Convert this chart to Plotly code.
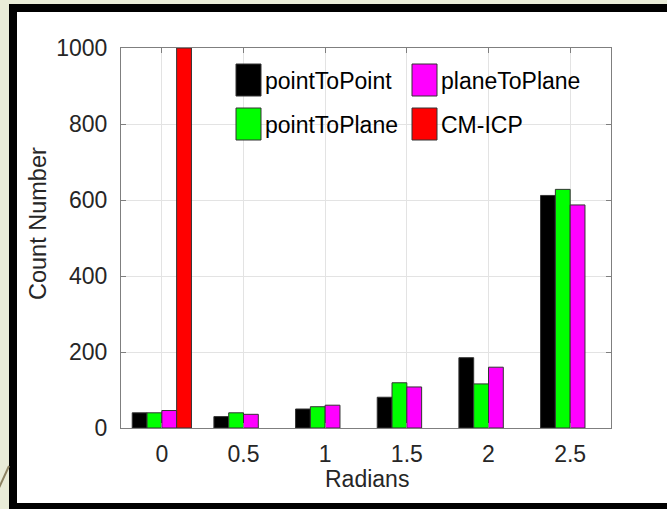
import plotly.graph_objects as go

# ---- data ----
radians = [0, 0.5, 1, 1.5, 2, 2.5]
tick_labels = ["0", "0.5", "1", "1.5", "2", "2.5"]
point_to_point = [40, 30, 50, 81, 185, 612]
point_to_plane = [40, 40, 56, 119, 116, 628]
plane_to_plane = [46, 36, 60, 108, 160, 587]
cm_icp = [1000, None, None, None, None, None]

series_names = ["pointToPoint", "pointToPlane", "planeToPlane", "CM-ICP"]
series_values = [point_to_point, point_to_plane, plane_to_plane, cm_icp]
series_colors = ["#000000", "#00ff00", "#ff00ff", "#ff0000"]

# ---- geometry helpers (pixel -> paper) ----
W, H = 667, 509
L, R, T, B = 121, 611, 48, 428


def px(x):
    return (x - L) / (R - L)


def py(y):
    return (B - y) / (B - T)


FONT = "Liberation Sans, Arial, Helvetica, sans-serif"
TXT = "#262626"
BG = "#e9ecd8"

fig = go.Figure()
for name, vals, col in zip(series_names, series_values, series_colors):
    fig.add_trace(go.Bar(
        x=radians, y=vals, name=name,
        marker=dict(color=col, line=dict(color="#333333", width=1)),
        showlegend=False,
    ))

shapes = [
    # white slide panel with black frame
    dict(type="rect", xref="paper", yref="paper", layer="below",
         x0=px(13), x1=px(680), y0=py(8), y1=py(507),
         fillcolor="white", line=dict(color="black", width=8)),
    # decorative diagonal line in background
    dict(type="line", xref="paper", yref="paper", layer="below",
         x0=px(-2), y0=py(490), x1=px(9), y1=py(466),
         line=dict(color="#8c8262", width=2)),
]

annotations = []
# manual legend (two columns, MATLAB style)
legend_pos = [(236, 64), (236, 108), (412, 64), (412, 108)]
for (lx, ly), name, col in zip(legend_pos, series_names, series_colors):
    shapes.append(dict(type="rect", xref="paper", yref="paper",
                       x0=px(lx), x1=px(lx + 25), y0=py(ly), y1=py(ly + 32),
                       fillcolor=col, line=dict(color="#333333", width=1)))
    annotations.append(dict(xref="paper", yref="paper", x=px(lx + 27), y=py(ly + 17),
                            xanchor="left", yanchor="middle", showarrow=False,
                            text=name, font=dict(family=FONT, size=23, color="#000000")))

annotations.append(dict(xref="paper", yref="paper", x=px(38), y=py(224),
                        xanchor="center", yanchor="middle", showarrow=False,
                        textangle=-90, text="Count Number",
                        font=dict(family=FONT, size=23.5, color=TXT)))
annotations.append(dict(xref="paper", yref="paper", x=px(367), y=py(479),
                        xanchor="center", yanchor="middle", showarrow=False,
                        text="Radians",
                        font=dict(family=FONT, size=23, color=TXT)))

fig.update_layout(
    width=W, height=H,
    margin=dict(l=L, r=W - R, t=T, b=H - B, pad=0),
    paper_bgcolor=BG,
    plot_bgcolor="white",
    barmode="group", bargap=0.275, bargroupgap=0,
    shapes=shapes, annotations=annotations,
    showlegend=False,
    font=dict(family=FONT, size=23, color=TXT),
)
fig.update_xaxes(
    range=[-0.25, 2.75], tickvals=radians, ticktext=tick_labels,
    showgrid=True, gridcolor="#e3e3e3", gridwidth=1,
    showline=True, linecolor="#7f7f7f", linewidth=1, mirror="ticks",
    ticks="inside", ticklen=5, tickcolor="#7f7f7f",
    tickfont=dict(family=FONT, size=23, color=TXT),
    ticklabelstandoff=5, zeroline=False,
)
fig.update_yaxes(
    range=[0, 1000], tickvals=[0, 200, 400, 600, 800, 1000],
    showgrid=True, gridcolor="#e3e3e3", gridwidth=1,
    showline=True, linecolor="#7f7f7f", linewidth=1, mirror="ticks",
    ticks="inside", ticklen=5, tickcolor="#7f7f7f",
    tickfont=dict(family=FONT, size=23, color=TXT),
    ticklabelstandoff=8, zeroline=False,
)

fig.write_html(
    "out.html",
    config={"displayModeBar": False},
    post_script="document.body.style.margin='0';"
                "document.body.style.background='" + BG + "';",
)
